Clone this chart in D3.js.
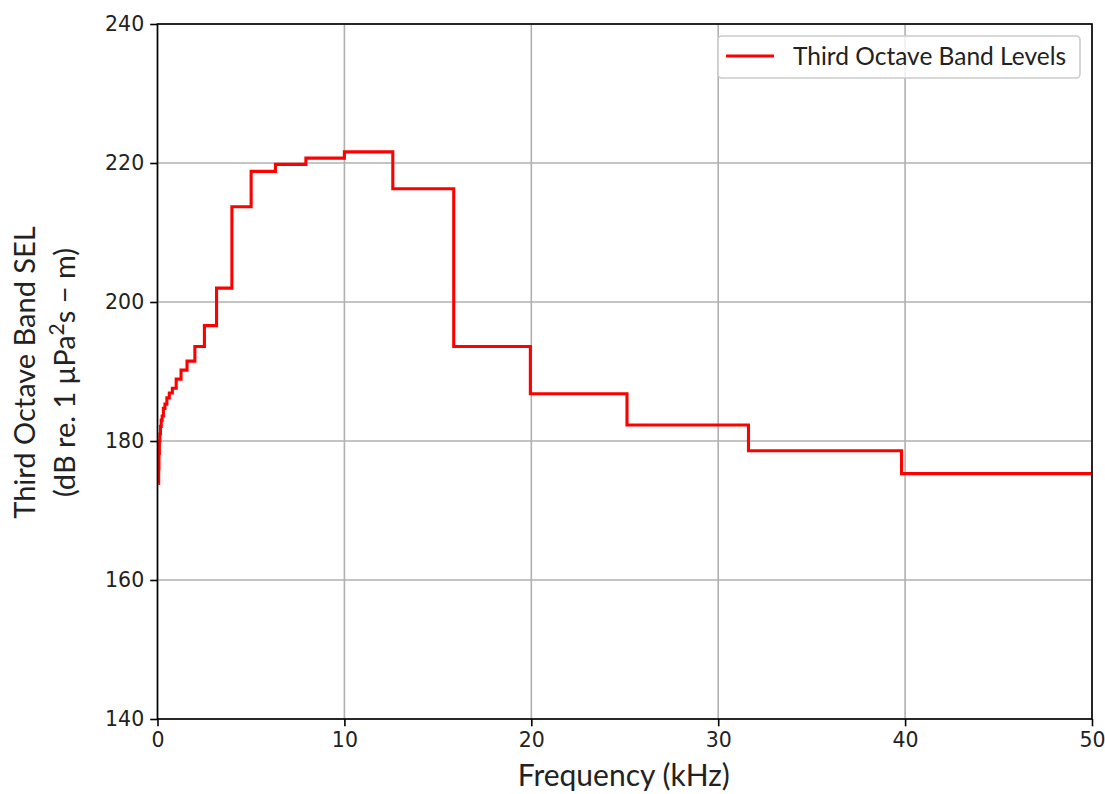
<!DOCTYPE html>
<html>
<head>
<meta charset="utf-8">
<script src="https://cdn.jsdelivr.net/npm/d3@7/dist/d3.min.js"></script>
<style>
  html, body { margin: 0; padding: 0; background: #ffffff; }
  svg { display: block; }
</style>
</head>
<body>
<svg id="chart" width="1105" height="794"></svg>
<script>
// Third-octave band edge frequencies (kHz) and band levels (dB re 1 µPa²s - m)
const bandFreqs = [0.0501, 0.0631, 0.0794, 0.1, 0.126, 0.158, 0.2, 0.251, 0.316, 0.398,
  0.501, 0.631, 0.794, 1.0, 1.26, 1.58, 2.0, 2.51, 3.16, 3.98,
  5.01, 6.31, 7.94, 10.0, 12.59, 15.85, 19.95, 25.12, 31.62, 39.81, 50.12];
const bandLevels = [173.9, 176.0, 178.2, 180.0, 181.0, 182.1, 183.0, 183.6, 184.7, 185.3,
  186.2, 186.9, 187.6, 188.9, 190.2, 191.5, 193.6, 196.6, 202.0, 213.7,
  218.8, 219.8, 220.7, 221.6, 216.3, 193.6, 186.8, 182.3, 178.6, 175.3, 175.3];
const xTicks = [0, 10, 20, 30, 40, 50];
const yTicks = [140, 160, 180, 200, 220, 240];
const seriesName = "Third Octave Band Levels";

const svg = d3.select("#chart");
const m = { left: 157.5, right: 1092, top: 24, bottom: 719 };

const x = d3.scaleLinear().domain([0, 50]).range([m.left, m.right]);
const y = d3.scaleLinear().domain([140, 240]).range([m.bottom, m.top]);

const tickFont = "'DejaVu Sans', sans-serif";
const labelFont = "Lato, 'Open Sans', sans-serif";

// grid
const grid = svg.append("g");
grid.selectAll("line.gx").data(xTicks).join("line")
  .attr("x1", d => x(d)).attr("x2", d => x(d))
  .attr("y1", m.top).attr("y2", m.bottom)
  .attr("stroke", "#b0b0b0").attr("stroke-width", 1.6);
grid.selectAll("line.gy").data(yTicks).join("line")
  .attr("y1", d => y(d)).attr("y2", d => y(d))
  .attr("x1", m.left).attr("x2", m.right)
  .attr("stroke", "#b0b0b0").attr("stroke-width", 1.6);

// clip
svg.append("clipPath").attr("id", "clip").append("rect")
  .attr("x", m.left).attr("y", m.top)
  .attr("width", m.right - m.left).attr("height", m.bottom - m.top);

const data = bandFreqs.map((f, i) => ({ f, v: bandLevels[i] }));
const line = d3.line().x(d => x(d.f)).y(d => y(d.v)).curve(d3.curveStepAfter);
svg.append("path").datum(data)
  .attr("clip-path", "url(#clip)")
  .attr("d", line)
  .attr("fill", "none").attr("stroke", "#ff0000").attr("stroke-width", 3.1)
  .attr("stroke-linejoin", "miter").attr("stroke-linecap", "butt");

// axes
const xAxis = d3.axisBottom(x).tickValues(xTicks).tickSize(7.3).tickPadding(6).tickFormat(d3.format("d"));
const yAxis = d3.axisLeft(y).tickValues(yTicks).tickSize(7.3).tickPadding(6).tickFormat(d3.format("d"));
const gx = svg.append("g").attr("transform", `translate(0,${m.bottom})`).call(xAxis);
const gy = svg.append("g").attr("transform", `translate(${m.left},0)`).call(yAxis);
[gx, gy].forEach(g => {
  g.select(".domain").remove();
  g.selectAll(".tick line").attr("stroke", "#000").attr("stroke-width", 1.6);
  g.selectAll(".tick text").attr("fill", "#222").style("font-family", tickFont).style("font-size", "20.5px");
});

// spines
svg.append("rect").attr("x", m.left).attr("y", m.top)
  .attr("width", m.right - m.left).attr("height", m.bottom - m.top)
  .attr("fill", "none").attr("stroke", "#000").attr("stroke-width", 1.6);

// axis labels
svg.append("text").attr("x", (m.left + m.right) / 2 - 1).attr("y", 786)
  .attr("text-anchor", "middle").style("font-family", labelFont).style("font-size", "30px")
  .attr("fill", "#222").text("Frequency (kHz)");

const yl = svg.append("g").attr("transform", `translate(0,${(m.top + m.bottom) / 2 + 1}) rotate(-90)`);
yl.append("text").attr("x", 0).attr("y", 35).attr("text-anchor", "middle")
  .style("font-family", labelFont).style("font-size", "29px").attr("fill", "#222")
  .text("Third Octave Band SEL");
const l2 = yl.append("text").attr("x", 0).attr("y", 75).attr("text-anchor", "middle")
  .style("font-family", labelFont).style("font-size", "29px").attr("fill", "#222");
l2.append("tspan").text("(dB re. 1 μPa");
l2.append("tspan").attr("dy", -11).style("font-size", "21px").text("2");
l2.append("tspan").attr("dy", 11).text("s − m)");

// legend
const lg = svg.append("g");
lg.append("rect").attr("x", 718).attr("y", 36).attr("width", 362).attr("height", 42)
  .attr("rx", 4).attr("fill", "#ffffff").attr("fill-opacity", 0.8)
  .attr("stroke", "#cccccc").attr("stroke-width", 1.6);
lg.append("line").attr("x1", 726).attr("x2", 774).attr("y1", 56).attr("y2", 56)
  .attr("stroke", "#ff0000").attr("stroke-width", 3.1);
lg.append("text").attr("x", 793).attr("y", 64.5)
  .style("font-family", labelFont).style("font-size", "24.5px").attr("fill", "#222")
  .text(seriesName);
</script>
</body>
</html>
